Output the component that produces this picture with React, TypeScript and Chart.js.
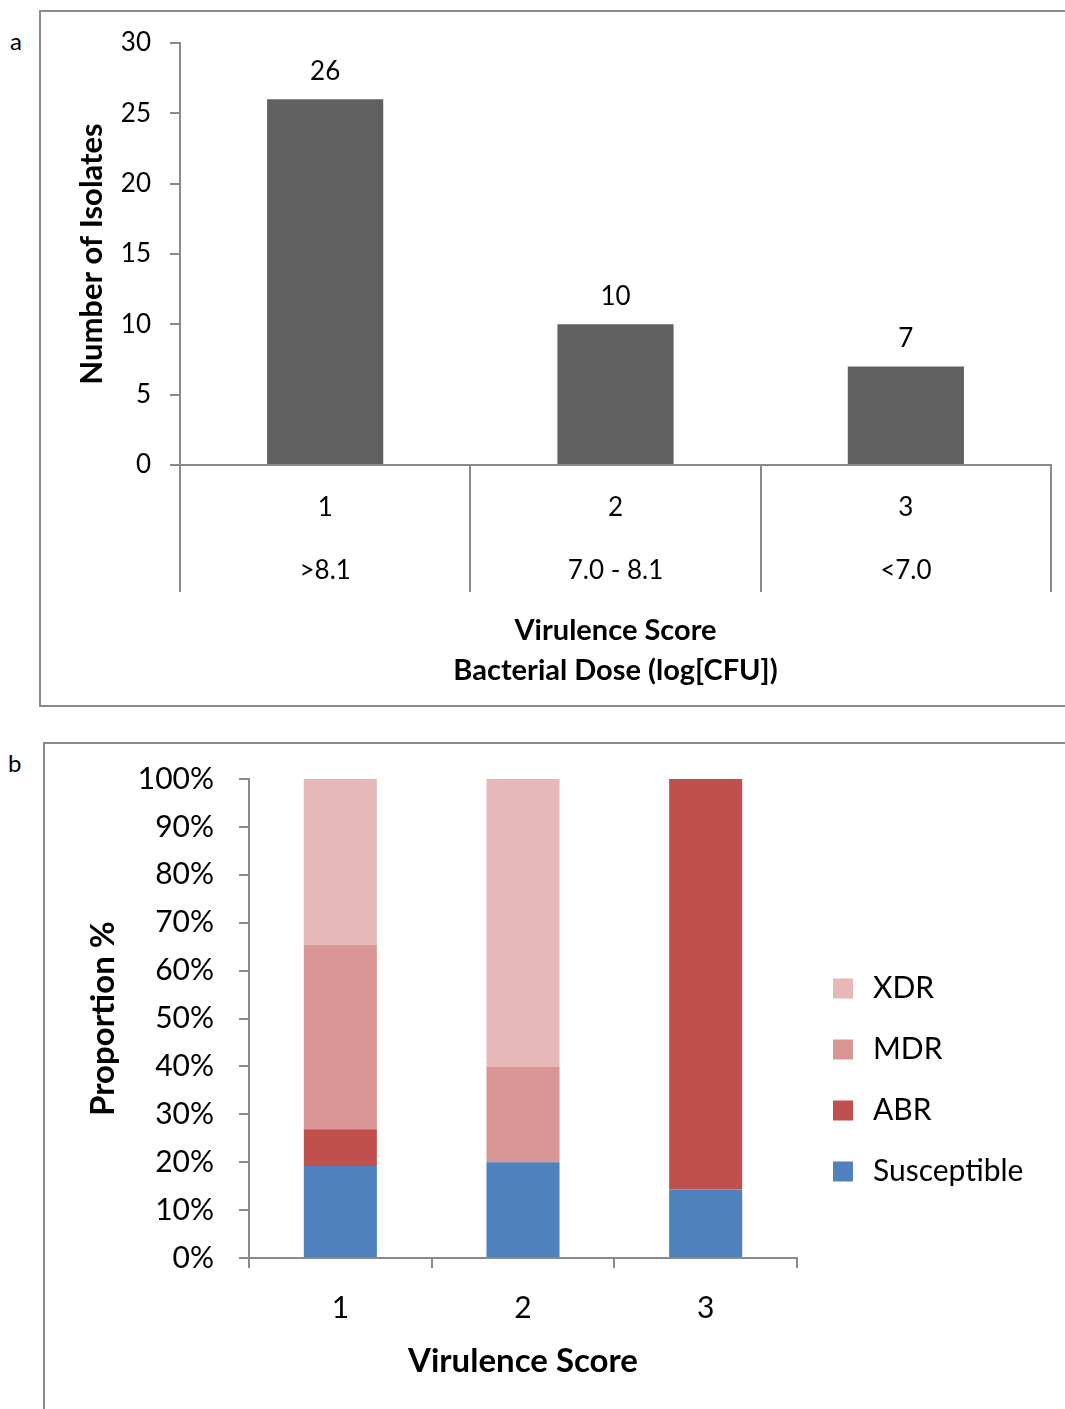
import React, { useEffect, useRef } from 'react';
import { Chart, registerables } from 'chart.js';

Chart.register(...registerables);

const FONT = 'Lato, "Open Sans", sans-serif';
const AXIS = '#8a8a8a';
const TEXT = '#000000';

// ---- Panel a data ----
const scoreLabels = ['1', '2', '3'];
const doseLabels = ['>8.1', '7.0 - 8.1', '<7.0'];
const isolateCounts = [26, 10, 7];
const countAxisMax = 30;
const countStep = 5;

// ---- Panel b data (percent of isolates) ----
const groupNames = ['Susceptible', 'ABR', 'MDR', 'XDR'];
const susceptiblePct = [19.2, 20, 14.3];
const abrPct = [7.7, 0, 85.7];
const mdrPct = [38.5, 20, 0];
const xdrPct = [34.6, 60, 0];
const groupColors = ['#4F81BD', '#C0504D', '#D99694', '#E6B9B8'];
const pctAxisMax = 100;
const pctStep = 10;

const barValueLabels = {
  id: 'barValueLabels',
  afterDatasetsDraw(chart: any) {
    const ctx = chart.ctx;
    const meta = chart.getDatasetMeta(0);
    const data = chart.data.datasets[0].data;
    ctx.save();
    ctx.font = `26px ${FONT}`;
    ctx.fillStyle = TEXT;
    ctx.textAlign = 'center';
    ctx.textBaseline = 'middle';
    meta.data.forEach((el: any, i: number) => {
      ctx.fillText(String(data[i]), el.x, el.y - 28);
    });
    ctx.restore();
  },
};

function fitArea(chart: any, pad: any, target: { right: number; top: number; bottom: number }) {
  for (let k = 0; k < 4; k++) {
    const a = chart.chartArea;
    const dr = a.right - target.right;
    const dt = target.top - a.top;
    const db = a.bottom - target.bottom;
    if (Math.abs(dr) < 0.5 && Math.abs(dt) < 0.5 && Math.abs(db) < 0.5) break;
    pad.right += dr;
    pad.top += dt;
    pad.bottom += db;
    chart.update();
  }
}

export default function App() {
  const refA = useRef<HTMLCanvasElement>(null);
  const refB = useRef<HTMLCanvasElement>(null);

  useEffect(() => {
    const padA = { left: 0, right: 14, top: 43, bottom: 15 };
    const chartA = new Chart(refA.current as HTMLCanvasElement, {
      type: 'bar',
      data: {
        labels: scoreLabels.map((s, i) => [s, doseLabels[i]]),
        datasets: [
          {
            label: 'Number of Isolates',
            data: isolateCounts,
            backgroundColor: '#606060',
            borderWidth: 0,
            barPercentage: 0.4,
            categoryPercentage: 1.0,
          },
        ],
      },
      options: {
        animation: false,
        responsive: false,
        devicePixelRatio: 1,
        layout: { padding: padA },
        plugins: { legend: { display: false }, tooltip: { enabled: false } },
        scales: {
          x: {
            offset: true,
            grid: {
              display: true,
              offset: true,
              drawOnChartArea: false,
              drawTicks: true,
              tickLength: 127,
              color: AXIS,
              lineWidth: 2,
            },
            border: { display: true, color: AXIS, width: 2 },
            ticks: {
              color: TEXT,
              font: { family: FONT, size: 26, lineHeight: 63 / 26 },
              padding: -115.5,
              maxRotation: 0,
              autoSkip: false,
            },
            title: {
              display: true,
              text: ['Virulence Score', 'Bacterial Dose (log[CFU])'],
              color: TEXT,
              font: { family: FONT, size: 29, weight: 'bold', lineHeight: 40 / 29 },
              padding: { top: 0, bottom: 14 },
            },
            afterFit: (s: any) => {
              s.height = 240;
            },
          },
          y: {
            min: 0,
            max: countAxisMax,
            grid: {
              drawOnChartArea: false,
              drawTicks: true,
              tickLength: 10,
              color: AXIS,
              lineWidth: 2,
            },
            border: { display: true, color: AXIS, width: 2 },
            ticks: {
              stepSize: countStep,
              color: TEXT,
              font: { family: FONT, size: 26 },
              padding: 19,
            },
            title: {
              display: true,
              text: 'Number of Isolates',
              color: TEXT,
              font: { family: FONT, size: 31, weight: 'bold', lineHeight: 1.2 },
              padding: { top: 73.4, bottom: 0 },
            },
            afterFit: (s: any) => {
              s.width = 180;
            },
          },
        },
      } as any,
      plugins: [barValueLabels],
    });
    fitArea(chartA, padA, { right: 1051, top: 43, bottom: 465 });

    const padB = { left: 0, right: 30, top: 59, bottom: 28 };
    const seriesB = [susceptiblePct, abrPct, mdrPct, xdrPct];
    const chartB = new Chart(refB.current as HTMLCanvasElement, {
      type: 'bar',
      data: {
        labels: scoreLabels,
        datasets: groupNames.map((name, i) => ({
          label: name,
          data: seriesB[i],
          backgroundColor: groupColors[i],
          borderWidth: 0,
          barPercentage: 0.4,
          categoryPercentage: 1.0,
        })),
      },
      options: {
        animation: false,
        responsive: false,
        devicePixelRatio: 1,
        layout: { padding: padB },
        plugins: {
          tooltip: { enabled: false },
          legend: {
            display: true,
            position: 'right',
            align: 'center',
            reverse: true,
            labels: {
              color: TEXT,
              font: { family: FONT, size: 30 },
              usePointStyle: true,
              pointStyle: 'rect',
              boxWidth: 30,
              boxHeight: 20,
              padding: 31,
            },
          },
        },
        scales: {
          x: {
            stacked: true,
            offset: true,
            grid: {
              display: true,
              offset: true,
              drawOnChartArea: false,
              drawTicks: true,
              tickLength: 10,
              color: AXIS,
              lineWidth: 2,
            },
            border: { display: true, color: AXIS, width: 2 },
            ticks: {
              color: TEXT,
              font: { family: FONT, size: 30 },
              padding: 22,
              maxRotation: 0,
            },
            title: {
              display: true,
              text: 'Virulence Score',
              color: TEXT,
              font: { family: FONT, size: 33, weight: 'bold', lineHeight: 1.2 },
              padding: { top: 0, bottom: 0 },
            },
            afterFit: (s: any) => {
              s.height = 123;
            },
          },
          y: {
            stacked: true,
            min: 0,
            max: pctAxisMax,
            grid: {
              drawOnChartArea: false,
              drawTicks: true,
              tickLength: 10,
              color: AXIS,
              lineWidth: 2,
            },
            border: { display: true, color: AXIS, width: 2 },
            ticks: {
              stepSize: pctStep,
              color: TEXT,
              font: { family: FONT, size: 30 },
              padding: 25,
              callback: (v: any) => `${v}%`,
            },
            title: {
              display: true,
              text: 'Proportion %',
              color: TEXT,
              font: { family: FONT, size: 33, weight: 'bold', lineHeight: 1.2 },
              padding: { top: 83.2, bottom: 0 },
            },
            afterFit: (s: any) => {
              s.width = 249;
            },
          },
        },
      } as any,
    });
    fitArea(chartB, padB, { right: 797, top: 59, bottom: 538 });

    return () => {
      chartA.destroy();
      chartB.destroy();
    };
  }, []);

  const letter: React.CSSProperties = {
    position: 'absolute',
    fontFamily: FONT,
    fontSize: 24,
    lineHeight: '24px',
    color: TEXT,
  };

  return (
    <div
      style={{
        position: 'absolute',
        left: 0,
        top: 0,
        width: 1065,
        height: 1409,
        overflow: 'hidden',
        background: '#ffffff',
      }}
    >
      <div
        style={{
          position: 'absolute',
          left: 39,
          top: 10,
          width: 1060,
          height: 697,
          boxSizing: 'border-box',
          border: `2px solid ${AXIS}`,
        }}
      />
      <div
        style={{
          position: 'absolute',
          left: 43,
          top: 742,
          width: 1060,
          height: 720,
          boxSizing: 'border-box',
          border: `2px solid ${AXIS}`,
        }}
      />
      <span style={{ ...letter, left: 10, top: 29 }}>a</span>
      <span style={{ ...letter, left: 8, top: 751 }}>b</span>
      <canvas
        ref={refA}
        width={1065}
        height={720}
        style={{ position: 'absolute', left: 0, top: 0, width: 1065, height: 720 }}
      />
      <canvas
        ref={refB}
        width={1065}
        height={689}
        style={{ position: 'absolute', left: 0, top: 720, width: 1065, height: 689 }}
      />
    </div>
  );
}
